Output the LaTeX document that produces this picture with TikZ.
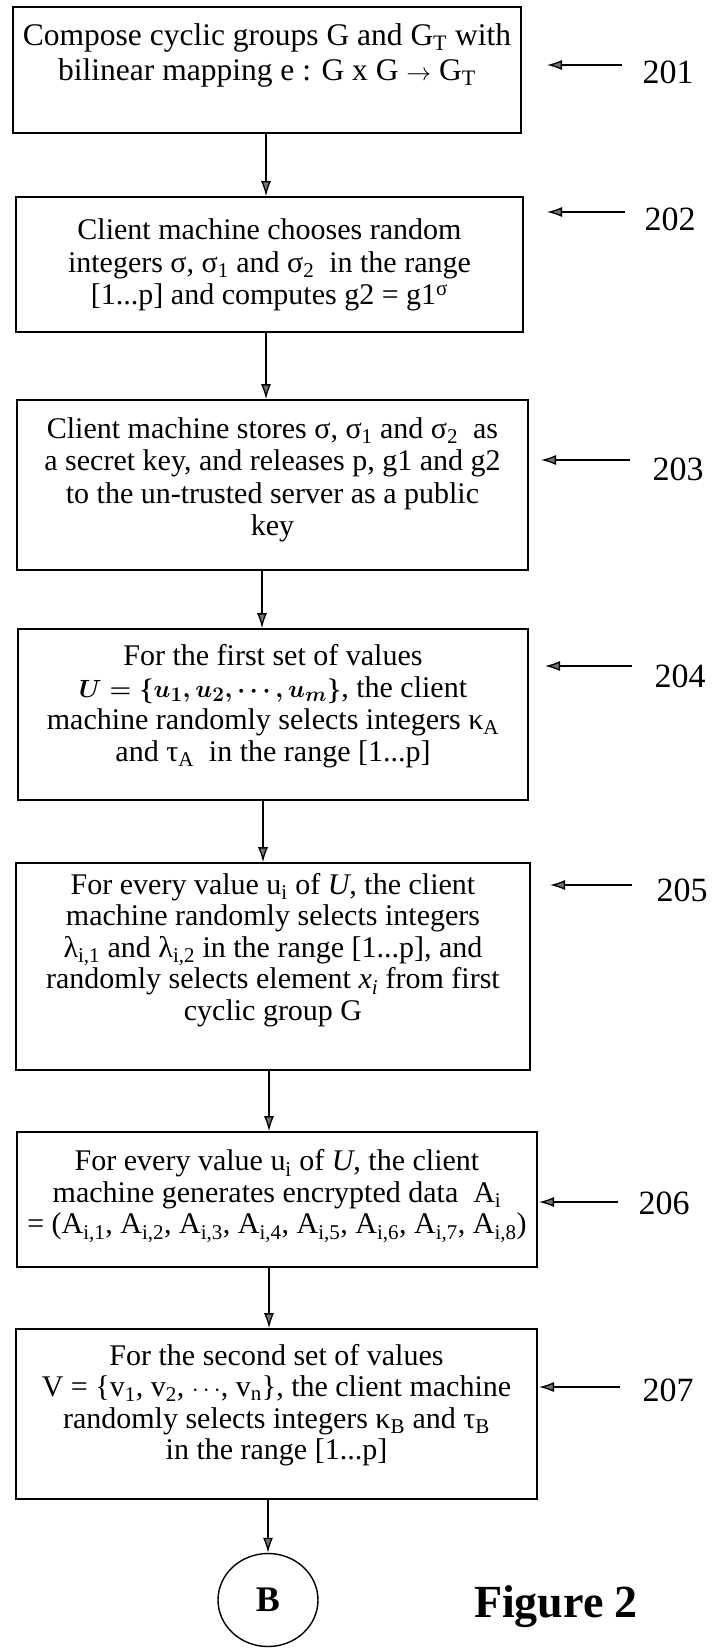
\documentclass[tikz,border=0pt]{standalone}
\usepackage{fontspec}
\setmainfont{Liberation Serif}
\usetikzlibrary{arrows.meta,shapes.geometric}
\begin{document}
\begin{tikzpicture}[x=1pt,y=-1pt,
  box/.style={draw, line width=1.6pt, rectangle, inner sep=0pt},
  txt/.style={align=center, inner sep=0pt, font=\fontsize{30}{31.5}\selectfont},
  arr/.style={line width=1.3pt, -{Latex[length=15pt,width=10pt,fill=black!55]}},
  num/.style={font=\fontsize{34}{36}\selectfont, inner sep=0pt}]
\useasboundingbox (0,0) rectangle (716,1648);

% boxes
\node[box, minimum width=508pt, minimum height=126pt] (b1) at (267,70) {};
\node[box, minimum width=507pt, minimum height=135pt] (b2) at (269.5,264.5) {};
\node[box, minimum width=511pt, minimum height=170pt] (b3) at (272.5,485) {};
\node[box, minimum width=510pt, minimum height=171pt] (b4) at (273,714.5) {};
\node[box, minimum width=514pt, minimum height=207pt] (b5) at (273,966.5) {};
\node[box, minimum width=520pt, minimum height=135pt] (b6) at (277,1199.5) {};
\node[box, minimum width=521pt, minimum height=170pt] (b7) at (276.5,1414) {};
\node[draw, ellipse, line width=1.4pt, minimum width=100pt, minimum height=93pt, inner sep=0pt] (B) at (268,1600)
  {\bfseries\fontsize{36}{38}\selectfont B};

% texts
\node[txt, font=\fontsize{31.5}{35}\selectfont] (t1) at (267,55)
  {Compose cyclic groups G and G\textsubscript{T} with\\
   bilinear mapping e : G x G $\rightarrow$ G\textsubscript{T}};
\node[txt, font=\fontsize{30}{32.5}\selectfont] (t2) at (269.5,265)
  {Client machine chooses random\\
   integers σ, σ\textsubscript{1} and σ\textsubscript{2}\ \ in the range\\
   {[}1...p] and computes g2 = g1\textsuperscript{σ}};
\node[txt, font=\fontsize{30}{32.5}\selectfont] (t3) at (272.5,480)
  {Client machine stores σ, σ\textsubscript{1} and σ\textsubscript{2}\ \ as\\
   a secret key, and releases p, g1 and g2\\
   to the un-trusted server as a public\\
   key};
\node[txt, font=\fontsize{30}{32}\selectfont] (t4) at (273,706)
  {For the first set of values\\
   {\boldmath$U=\{u_1,u_2,\cdots,u_m\}$}, the client\\
   machine randomly selects integers κ\textsubscript{A}\\
   and τ\textsubscript{A}\ \ in the range {[}1...p]};
\node[txt] (t5) at (273,950)
  {For every value u\textsubscript{i} of \textit{U}, the client\\
   machine randomly selects integers\\
   λ\textsubscript{i,1} and λ\textsubscript{i,2} in the range {[}1...p], and\\
   randomly selects element \textit{x\textsubscript{i}} from first\\
   cyclic group G};
\node[txt] (t6) at (277,1196)
  {For every value u\textsubscript{i} of \textit{U}, the client\\
   machine generates encrypted data\ \ A\textsubscript{i}\\
   = (A\textsubscript{i,1}, A\textsubscript{i,2}, A\textsubscript{i,3}, A\textsubscript{i,4}, A\textsubscript{i,5}, A\textsubscript{i,6}, A\textsubscript{i,7}, A\textsubscript{i,8})};
\node[txt] (t7) at (276.5,1405)
  {For the second set of values\\
   V = \{v\textsubscript{1}, v\textsubscript{2}, $\cdots$, v\textsubscript{n}\}, the client machine\\
   randomly selects integers κ\textsubscript{B} and τ\textsubscript{B}\\
   in the range {[}1...p]};

\node[font=\bfseries\fontsize{46}{50}\selectfont, inner sep=0pt] (fig) at (556,1607) {Figure 2};

% flow arrows
\coordinate (c1) at (266,0);
\coordinate (c2) at (266,0);
\coordinate (c3) at (262,0);
\coordinate (c4) at (263,0);
\coordinate (c5) at (269,0);
\coordinate (c6) at (269,0);
\draw[arr] (c1 |- b1.south) -- (c1 |- b2.north);
\draw[arr] (c2 |- b2.south) -- (c2 |- b3.north);
\draw[arr] (c3 |- b3.south) -- (c3 |- b4.north);
\draw[arr] (c4 |- b4.south) -- (c4 |- b5.north);
\draw[arr] (c5 |- b5.south) -- (c5 |- b6.north);
\draw[arr] (c6 |- b6.south) -- (c6 |- b7.north);
\draw[arr] (B.north |- b7.south) -- (B.north);

% reference numerals
\node[num] (n201) at (668,72) {201};
\node[num] (n202) at (670,219) {202};
\node[num] (n203) at (678,469) {203};
\node[num] (n204) at (680,676) {204};
\node[num] (n205) at (682,890) {205};
\node[num] (n206) at (664,1203) {206};
\node[num] (n207) at (668,1390) {207};

\coordinate (h201) at (547,65);   \coordinate (s201) at (622,65);
\coordinate (h202) at (547,212);  \coordinate (s202) at (625,212);
\coordinate (h203) at (541,460);  \coordinate (s203) at (630,460);
\coordinate (h204) at (545,666);  \coordinate (s204) at (632,666);
\coordinate (h205) at (550,885);  \coordinate (s205) at (632,885);
\coordinate (h206) at (539,1202); \coordinate (s206) at (618,1202);
\coordinate (h207) at (539,1387); \coordinate (s207) at (620,1387);
\foreach \k in {201,...,207} { \draw[arr] (s\k) -- (h\k); }
\end{tikzpicture}
\end{document}
